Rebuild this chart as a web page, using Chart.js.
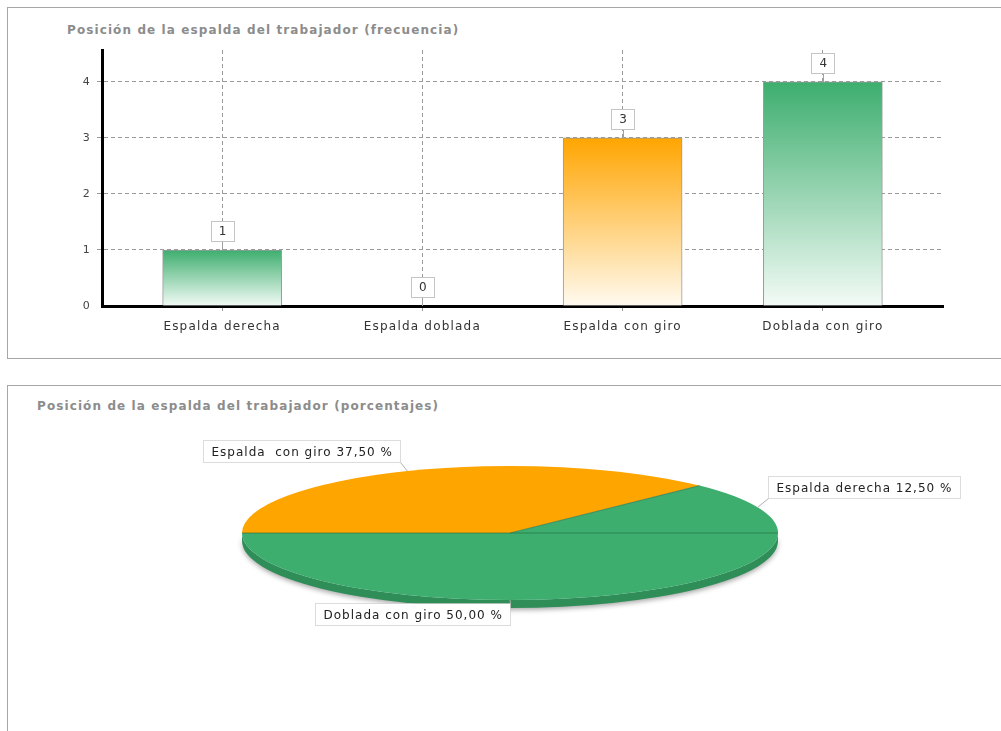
<!DOCTYPE html>
<html>
<head>
<meta charset="utf-8">
<title>Posición de la espalda del trabajador</title>
<script src="https://cdn.jsdelivr.net/npm/chart.js@4.4.1/dist/chart.umd.min.js"></script>
<style>
  html, body { margin: 0; padding: 0; background: #fff; }
  body { width: 1001px; height: 731px; overflow: hidden; position: relative; font-family: "DejaVu Sans", sans-serif; }
  .panel { position: absolute; left: 7px; width: 1200px; border: 1px solid #a6a6a6; }
  #panel-barras { top: 7px; height: 350px; }
  #panel-pastel { top: 385px; height: 400px; }
  .titulo { position: absolute; color: #8c8c8c; font-size: 12px; font-weight: bold; letter-spacing: 1.1px; white-space: nowrap; }
  #titulo-barras { left: 67px; top: 23px; }
  #titulo-pastel { left: 37px; top: 399px; }
  canvas { position: absolute; left: 0; }
  #grafico-barras { top: 0; }
  #grafico-pastel { top: 385px; }
</style>
</head>
<body>
<div class="panel" id="panel-barras"></div>
<div class="panel" id="panel-pastel"></div>
<div class="titulo" id="titulo-barras">Posición de la espalda del trabajador (frecuencia)</div>
<div class="titulo" id="titulo-pastel">Posición de la espalda del trabajador (porcentajes)</div>
<canvas id="grafico-barras" width="1001" height="365"></canvas>
<canvas id="grafico-pastel" width="1001" height="346"></canvas>
<script>
// datos
const categorias = ['Espalda derecha', 'Espalda doblada', 'Espalda con giro', 'Doblada con giro'];
const frecuencias = [1, 0, 3, 4];
const ticksY = [0, 1, 2, 3, 4];
const nombresPastel = ['Espalda derecha', 'Espalda doblada', 'Espalda  con giro', 'Doblada con giro'];

// colores por categoría
const colorVerde = ['#3dae6e', '#f3fbf6', '#2f8d58'];
const colorNaranja = ['#ffa500', '#fffaf0', '#cc8400'];
const coloresCat = [colorVerde, colorVerde, colorNaranja, colorVerde];

const FUENTE = '"DejaVu Sans", sans-serif';

// el texto del original es más ancho
const espaciado = {
    id: 'espaciado',
    beforeDraw(chart) { chart.ctx.letterSpacing = '1.2px'; }
};

// degradado vertical de cada barra
function degradadoBarra(c) {
    const chart = c.chart;
    const par = coloresCat[c.dataIndex] || colorVerde;
    if (!chart.chartArea || c.type !== 'data') return par[0];
    const y = chart.scales.y;
    const arriba = y.getPixelForValue(frecuencias[c.dataIndex]);
    const base = y.getPixelForValue(0);
    const g = chart.ctx.createLinearGradient(0, arriba, 0, Math.max(base, arriba + 1));
    g.addColorStop(0, par[0]);
    g.addColorStop(1, par[1]);
    return g;
}

// cajas con el valor encima de cada barra
const etiquetasValor = {
    id: 'etiquetasValor',
    afterDatasetsDraw(chart) {
        const ctx = chart.ctx;
        const meta = chart.getDatasetMeta(0);
        ctx.save();
        ctx.font = '12px ' + FUENTE;
        meta.data.forEach((barra, i) => {
            const txt = String(frecuencias[i]);
            const w = 23;
            const h = 20;
            const cy = barra.y - 19;
            const x = Math.round(barra.x) + 0.5;
            ctx.strokeStyle = '#a0a0a0';
            ctx.lineWidth = 1;
            ctx.beginPath();
            ctx.moveTo(x, cy + h / 2);
            ctx.lineTo(x, barra.y);
            ctx.stroke();
            const x0 = Math.round(barra.x - w / 2) + 0.5;
            const y0 = Math.round(cy - h / 2) + 0.5;
            ctx.fillStyle = '#fff';
            ctx.fillRect(x0, y0, w, h);
            ctx.strokeStyle = '#c4c4c4';
            ctx.strokeRect(x0, y0, w, h);
            ctx.fillStyle = '#333';
            ctx.textAlign = 'center';
            ctx.textBaseline = 'middle';
            ctx.fillText(txt, barra.x + 1, cy + 1);
        });
        ctx.restore();
    }
};

const colorRejilla = c => (c.tick && c.tick.value === 0) ? 'rgba(0,0,0,0)' : '#9a9a9a';

new Chart(document.getElementById('grafico-barras'), {
    type: 'bar',
    data: {
        datasets: [{
            data: frecuencias.map((v, i) => ({ x: i, y: v })),
            backgroundColor: degradadoBarra,
            borderColor: '#9a9a9a',
            borderWidth: 1,
            borderSkipped: 'bottom',
            barThickness: 119
        }]
    },
    options: {
        responsive: false,
        animation: false,
        layout: { padding: { top: 50, right: 58, left: 0, bottom: 0 } },
        plugins: { legend: { display: false }, tooltip: { enabled: false } },
        scales: {
            x: {
                type: 'linear',
                offset: false,
                min: -0.6,
                max: 3.6,
                afterBuildTicks: s => { s.ticks = categorias.map((c, i) => ({ value: i })); },
                afterFit: s => { s.height = 59; },
                ticks: {
                    callback: v => categorias[v],
                    color: '#333',
                    font: { family: FUENTE, size: 12 },
                    padding: 9,
                    maxRotation: 0,
                    autoSkip: false
                },
                grid: { offset: false, color: '#9a9a9a', tickLength: 5 },
                border: { display: true, color: '#000', width: 3, dash: [4, 3] }
            },
            y: {
                min: 0,
                max: 4.57,
                afterBuildTicks: s => { s.ticks = ticksY.map(v => ({ value: v })); },
                afterFit: s => { s.width = 102; },
                ticks: { color: '#444', font: { family: FUENTE, size: 11 }, padding: 6 },
                grid: { color: colorRejilla, tickLength: 5 },
                border: { display: true, color: '#000', width: 3, dash: [4, 3] }
            }
        }
    },
    plugins: [espaciado, etiquetasValor]
});

// pastel 3D: el original gira en sentido antihorario, se invierte el orden
const orden = categorias.map((c, i) => i).reverse();
const total = frecuencias.reduce((a, b) => a + b, 0);
const CENTRO_Y = 148;
const APLANADO = 0.25;
const PROF = 8;

const pastel3d = {
    id: 'pastel3d',
    beforeDatasetsDraw(chart) {
        const ctx = chart.ctx;
        const arcos = chart.getDatasetMeta(0).data;
        const { x: cx, y: cy, outerRadius: r } = arcos[0];
        const ry = r * APLANADO;
        // lateral
        ctx.save();
        ctx.shadowColor = 'rgba(0,0,0,0.35)';
        ctx.shadowBlur = 5;
        ctx.shadowOffsetY = 2;
        arcos.forEach((arco, k) => {
            const par = coloresCat[orden[k]];
            [[0, Math.PI], [2 * Math.PI, 3 * Math.PI]].forEach(([lo, hi]) => {
                const a0 = Math.max(arco.startAngle, lo);
                const a1 = Math.min(arco.endAngle, hi);
                if (a1 <= a0) return;
                ctx.beginPath();
                ctx.ellipse(cx, CENTRO_Y, r, ry, 0, a0, a1);
                ctx.ellipse(cx, CENTRO_Y + PROF, r, ry, 0, a1, a0, true);
                ctx.closePath();
                ctx.fillStyle = par[2];
                ctx.fill();
            });
        });
        ctx.restore();
        // cara superior aplastada
        ctx.save();
        ctx.translate(cx, CENTRO_Y);
        ctx.scale(1, APLANADO);
        ctx.translate(-cx, -cy);
    },
    afterDatasetsDraw(chart) {
        const ctx = chart.ctx;
        ctx.restore();
        const arcos = chart.getDatasetMeta(0).data;
        const { x: cx, outerRadius: r } = arcos[0];
        const ry = r * APLANADO;
        ctx.save();
        // separaciones entre porciones
        ctx.strokeStyle = 'rgba(30,100,60,0.55)';
        ctx.lineWidth = 1;
        arcos.forEach((arco, k) => {
            if (!frecuencias[orden[k]]) return;
            ctx.beginPath();
            ctx.moveTo(cx, CENTRO_Y);
            ctx.lineTo(cx + r * Math.cos(arco.startAngle), CENTRO_Y + ry * Math.sin(arco.startAngle));
            ctx.stroke();
        });
        // etiquetas
        ctx.font = '12px ' + FUENTE;
        ctx.letterSpacing = '1px';
        ctx.textBaseline = 'middle';
        ctx.textAlign = 'left';
        arcos.forEach((arco, k) => {
            const i = orden[k];
            const v = frecuencias[i];
            if (!v) return;
            const m = (arco.startAngle + arco.endAngle) / 2;
            const px = cx + r * Math.cos(m);
            const py = CENTRO_Y + ry * Math.sin(m);
            const txt = nombresPastel[i] + ' ' + (v / total * 100).toFixed(2).replace('.', ',') + ' %';
            const w = Math.round(ctx.measureText(txt).width + 16);
            const h = 22;
            const derecha = Math.cos(m) > 0.1;
            const arriba = Math.sin(m) < 0;
            const bx = Math.round(derecha ? px + 10 : px - w - (arriba ? 7 : 0)) + 0.5;
            const by = Math.round(arriba ? py - 9 - h : py + 3) + 0.5;
            // línea guía
            ctx.strokeStyle = '#b0b0b0';
            ctx.setLineDash([]);
            ctx.beginPath();
            ctx.moveTo(derecha ? bx : bx + w, arriba ? by + h : by);
            ctx.lineTo(px, py);
            ctx.stroke();
            ctx.fillStyle = '#fff';
            ctx.fillRect(bx, by, w, h);
            ctx.strokeStyle = '#b8b8b8';
            ctx.setLineDash([1, 1]);
            ctx.strokeRect(bx, by, w, h);
            ctx.fillStyle = '#222';
            ctx.fillText(txt, bx + 8, by + h / 2 + 1);
        });
        ctx.restore();
    }
};

new Chart(document.getElementById('grafico-pastel'), {
    type: 'pie',
    data: {
        labels: orden.map(i => nombresPastel[i]),
        datasets: [{
            data: orden.map(i => frecuencias[i]),
            backgroundColor: orden.map(i => coloresCat[i][0]),
            borderWidth: 0,
            radius: 268,
            clip: false
        }]
    },
    options: {
        responsive: false,
        animation: false,
        rotation: 90,
        layout: { padding: { left: 19 } },
        plugins: { legend: { display: false }, tooltip: { enabled: false } }
    },
    plugins: [pastel3d]
});
</script>
</body>
</html>
